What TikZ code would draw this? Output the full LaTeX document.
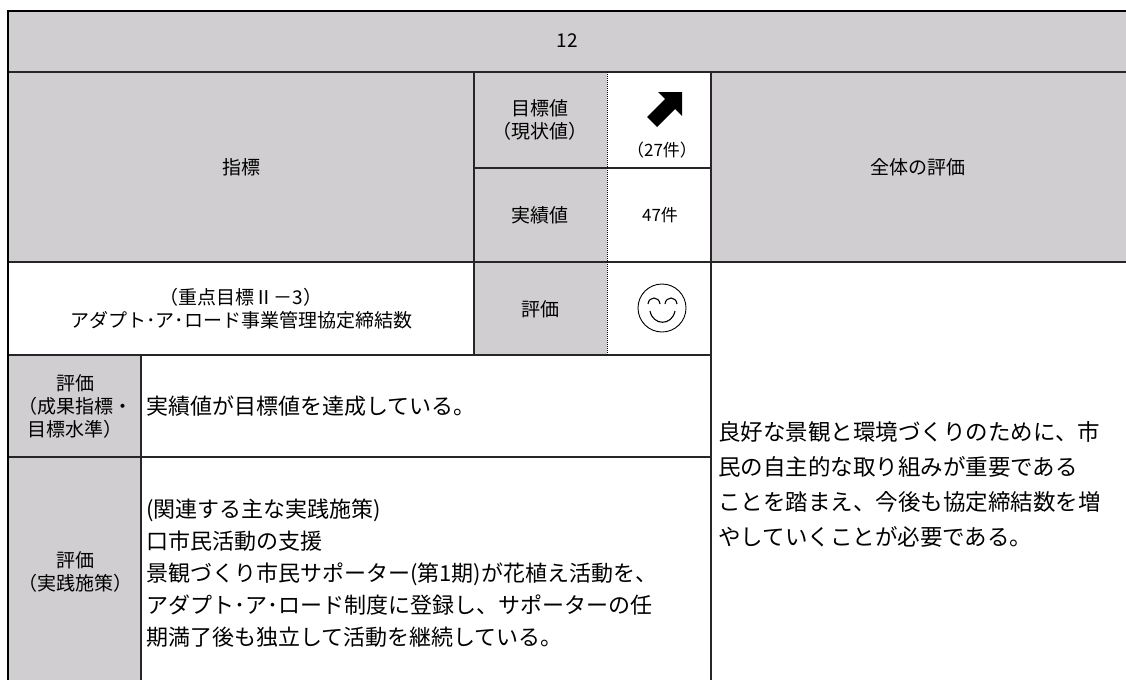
\documentclass[tikz,border=0pt]{standalone}
\usepackage{fontspec}
\setmainfont{Noto Sans CJK JP}
\usepackage{xcolor}
\usetikzlibrary{positioning}
\definecolor{gristabla}{RGB}{208,206,208}

\begin{document}
\begin{tikzpicture}[x=1pt,y=-1pt,
    celda/.style={fill=gristabla},
    linea/.style={line width=1.3pt, black!85},
    etiqueta/.style={align=center, inner sep=0pt, font=\fontsize{19}{23}\selectfont},
    texto/.style={align=left, inner sep=0pt, anchor=west, font=\fontsize{22}{33}\selectfont}]
        \useasboundingbox (0,0) rectangle (1126,680);
        % Fondos grises
        \fill[celda] (8,11) rectangle (1126,72);
        \fill[celda] (8,72) rectangle (607,262);
        \fill[celda] (711,72) rectangle (1126,262);
        \fill[celda] (474,262) rectangle (607,355);
        \fill[celda] (8,355) rectangle (141,680);
        % Líneas horizontales
        \draw[linea] (8,72) -- (1126,72);
        \draw[linea] (474,168) -- (711,168);
        \draw[linea] (8,262) -- (1126,262);
        \draw[linea] (8,355) -- (711,355);
        \draw[linea] (8,457) -- (711,457);
        % Líneas verticales
        \draw[linea] (474,72) -- (474,355);
        \draw[linea] (711,72) -- (711,680);
        \draw[linea] (141,355) -- (141,680);
        \draw[line width=1pt, dash pattern=on 1pt off 1pt] (607,72) -- (607,355);
        % Borde exterior
        \draw[line width=2pt] (1126,11) -- (8,11) -- (8,680);
        % Encabezados
        \node[etiqueta] (numero) at (567,41) {12};
        \node[etiqueta] (indicador) at (241,167) {指標};
        \node[etiqueta] (meta) at (540,120) {目標値\\（現状値）};
        \node[etiqueta] (logro) at (540,215) {実績値};
        \node[etiqueta] (global) at (918,167) {全体の評価};
        \node[etiqueta] (evaluacion) at (540,309) {評価};
        \node[etiqueta] (nombre) at (241,309) {（重点目標Ⅱ－3）\\アダプト･ア･ロード事業管理協定締結数};
        % Valores
        \node[etiqueta, font=\fontsize{17}{20}\selectfont] (actual) at (662,150) {（27件）};
        \node[etiqueta, font=\fontsize{17}{20}\selectfont] (resultado) at (660,215) {47件};
        % Flecha hacia arriba
        \fill (682,92) -- (682,116) -- (675,109) -- (657,127) -- (647,117) -- (665,99) -- (658,92) -- cycle;
        % Cara sonriente
        \draw[line width=0.9pt] (662,308) circle[radius=24pt];
        \draw[line width=1.1pt] (648,304) .. controls (649,296) and (659,296) .. (660,304);
        \draw[line width=1.1pt] (665,304) .. controls (666,296) and (676,296) .. (677,304);
        \draw[line width=1.1pt] (650,311) .. controls (653,326) and (672,326) .. (675,311);
        % Etiquetas de evaluación
        \node[etiqueta] (evalmeta) at (75,406) {評価\\（成果指標・\\目標水準）};
        \node[etiqueta] (evalmedida) at (75,572) {評価\\（実践施策）};
        % Textos
        \node[texto] (logrado) at (146,406) {実績値が目標値を達成している。};
        \node[texto, font=\fontsize{22}{32}\selectfont] (medidas) at (146,573) {(関連する主な実践施策)\\口市民活動の支援\\景観づくり市民サポーター(第1期)が花植え活動を、\\アダプト･ア･ロード制度に登録し、サポーターの任\\期満了後も独立して活動を継続している。};
        \node[texto, font=\fontsize{22.5}{35}\selectfont] (comentario) at (718,484) {良好な景観と環境づくりのために、市\\民の自主的な取り組みが重要である\\ことを踏まえ、今後も協定締結数を増\\やしていくことが必要である。};
    \end{tikzpicture}
\end{document}
